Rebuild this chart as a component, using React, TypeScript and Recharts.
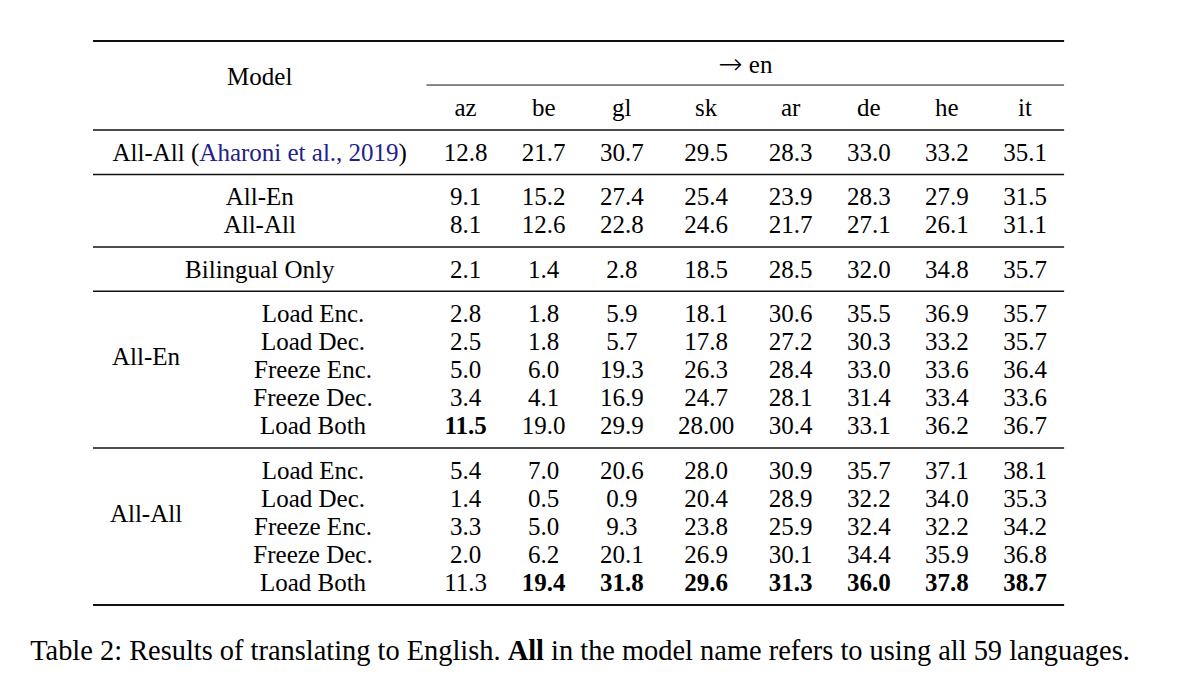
import { ReferenceLine, Scatter, ScatterChart, XAxis, YAxis } from 'recharts'

const languages = ['az', 'be', 'gl', 'sk', 'ar', 'de', 'he', 'it']

const aharoni = ['12.8', '21.7', '30.7', '29.5', '28.3', '33.0', '33.2', '35.1']
const multiAllEn = ['9.1', '15.2', '27.4', '25.4', '23.9', '28.3', '27.9', '31.5']
const multiAllAll = ['8.1', '12.6', '22.8', '24.6', '21.7', '27.1', '26.1', '31.1']
const bilingualOnly = ['2.1', '1.4', '2.8', '18.5', '28.5', '32.0', '34.8', '35.7']

const settings = ['Load Enc.', 'Load Dec.', 'Freeze Enc.', 'Freeze Dec.', 'Load Both']
const fromAllEn = [
  ['2.8', '1.8', '5.9', '18.1', '30.6', '35.5', '36.9', '35.7'],
  ['2.5', '1.8', '5.7', '17.8', '27.2', '30.3', '33.2', '35.7'],
  ['5.0', '6.0', '19.3', '26.3', '28.4', '33.0', '33.6', '36.4'],
  ['3.4', '4.1', '16.9', '24.7', '28.1', '31.4', '33.4', '33.6'],
  ['11.5', '19.0', '29.9', '28.00', '30.4', '33.1', '36.2', '36.7'],
]
const fromAllAll = [
  ['5.4', '7.0', '20.6', '28.0', '30.9', '35.7', '37.1', '38.1'],
  ['1.4', '0.5', '0.9', '20.4', '28.9', '32.2', '34.0', '35.3'],
  ['3.3', '5.0', '9.3', '23.8', '25.9', '32.4', '32.2', '34.2'],
  ['2.0', '6.2', '20.1', '26.9', '30.1', '34.4', '35.9', '36.8'],
  ['11.3', '19.4', '31.8', '29.6', '31.3', '36.0', '37.8', '38.7'],
]

const caption = 'Table 2: Results of translating to English.'
const captionRest = 'in the model name refers to using all 59 languages.'

// layout (x in em from the left rule, y in row slots)
const FONT = '"Liberation Serif", "Times New Roman", serif'
const EM = 25
const W = 1186
const H = 689
const LEFT_PX = 93
const LABEL_W = 13.34
const MAIN_X = LABEL_W / 2
const GROUP_X = 2.12
const SUB_X = 8.8
const PAD = 1.3756
const GAP = 0.58
const ROW_PX = 28.1
const TOP_PX = 107.8

type Row = { values: string[]; group: number; main?: string; sub?: string; block?: string }

const rows: Row[] = [
  { values: aharoni, group: 1, main: 'aharoni' },
  { values: multiAllEn, group: 2, main: 'All-En' },
  { values: multiAllAll, group: 2, main: 'All-All' },
  { values: bilingualOnly, group: 3, main: 'Bilingual Only' },
  ...fromAllEn.map((values, i) => ({ values, group: 4, sub: settings[i], block: 'All-En' })),
  ...fromAllAll.map((values, i) => ({ values, group: 5, sub: settings[i], block: 'All-All' })),
]

const slot = (i: number, group: number) => i + group * GAP
const rowSlots = rows.map((r, i) => slot(i + 1, r.group))

const textEm = (s: string) => s.split('').reduce((a, ch) => a + (ch === '.' ? 0.25 : 0.5), 0)
const colWidths = languages.map((_, c) => Math.max(...rows.map((r) => textEm(r.values[c]))) + PAD)
const colCenters = colWidths.map((w, c) => LABEL_W + colWidths.slice(0, c).reduce((a, b) => a + b, 0) + w / 2)
const TABLE_W = LABEL_W + colWidths.reduce((a, b) => a + b, 0)

// best transfer result per column is bold
const transferRows = rows.filter((r) => r.block)
const best = languages.map((_, c) => Math.max(...transferRows.map((r) => parseFloat(r.values[c]))))

const cells = rows.flatMap((r, ri) =>
  r.values.map((v, ci) => ({
    x: colCenters[ci],
    y: rowSlots[ri],
    label: v,
    bold: !!r.block && parseFloat(v) === best[ci],
  })),
)
const headerCells = languages.map((l, ci) => ({ x: colCenters[ci], y: 0, label: l, bold: false }))

const labels = [
  { x: MAIN_X, y: -1.1, label: 'Model' },
  { x: (LABEL_W + TABLE_W) / 2, y: -1.56, label: 'arrow' },
  ...rows.flatMap((r, ri) => {
    const out: { x: number; y: number; label: string }[] = []
    if (r.main) out.push({ x: MAIN_X, y: rowSlots[ri], label: r.main })
    if (r.sub) out.push({ x: SUB_X, y: rowSlots[ri], label: r.sub })
    return out
  }),
  ...['All-En', 'All-All'].map((b) => {
    const ys = rows.map((r, i) => (r.block === b ? rowSlots[i] : NaN)).filter((v) => !isNaN(v))
    return { x: GROUP_X, y: (ys[0] + ys[ys.length - 1]) / 2 - 0.46, label: b }
  }),
]

const lastSlot = rowSlots[rowSlots.length - 1]
const inner = [
  rowSlots[0] / 2,
  ...rows.slice(1).flatMap((r, i) => (r.group !== rows[i].group ? [(rowSlots[i] + rowSlots[i + 1]) / 2] : [])),
]

const X_DOMAIN = [-LEFT_PX / EM, (W - LEFT_PX) / EM]
const Y_DOMAIN = [-TOP_PX / ROW_PX, (H - TOP_PX) / ROW_PX]

function CellText(props: any) {
  const { cx, cy, payload } = props
  const base = { x: cx, y: cy, textAnchor: 'middle' as const, dominantBaseline: 'central' as const, fontFamily: FONT, fontSize: EM, fill: '#000' }
  if (payload.label === 'aharoni') {
    return (
      <text {...base}>
        All-All (<tspan fill="#22228a">Aharoni et al., 2019</tspan>)
      </text>
    )
  }
  if (payload.label === 'arrow') {
    return (
      <text {...base}>
        <tspan fontFamily='"DejaVu Sans", sans-serif' fontSize={29} fontWeight={300}>
          {'\u2192'}
        </tspan>
        <tspan> en</tspan>
      </text>
    )
  }
  return (
    <text {...base} fontWeight={payload.bold ? 'bold' : 'normal'}>
      {payload.label}
    </text>
  )
}

export default function App() {
  const rule = (y: number, w: number, x0 = 0) => (
    <ReferenceLine
      key={`${y}-${x0}`}
      segment={[
        { x: x0, y },
        { x: TABLE_W, y },
      ]}
      stroke="#111"
      strokeWidth={w}
    />
  )

  return (
    <div style={{ position: 'absolute', left: 0, top: 0, width: W, height: H, background: '#fff' }}>
      <ScatterChart width={W} height={H} margin={{ top: 0, right: 0, bottom: 0, left: 0 }}>
        <XAxis type="number" dataKey="x" domain={X_DOMAIN} allowDataOverflow hide />
        <YAxis type="number" dataKey="y" domain={Y_DOMAIN} allowDataOverflow reversed hide />
        {rule(-2.38, 2)}
        {rule(-0.81, 1, LABEL_W)}
        {inner.map((y) => rule(y, 1.5))}
        {rule(lastSlot + 0.79, 2)}
        <Scatter data={headerCells} shape={CellText} isAnimationActive={false} />
        <Scatter data={cells} shape={CellText} isAnimationActive={false} />
        <Scatter data={labels} shape={CellText} isAnimationActive={false} />
      </ScatterChart>
      <div
        style={{
          position: 'absolute',
          left: 0,
          width: 1160,
          top: 634,
          textAlign: 'center',
          fontFamily: FONT,
          fontSize: 28.4,
          lineHeight: '34px',
          color: '#000',
          whiteSpace: 'nowrap',
        }}
      >
        {caption} <b>All</b> {captionRest}
      </div>
    </div>
  )
}
